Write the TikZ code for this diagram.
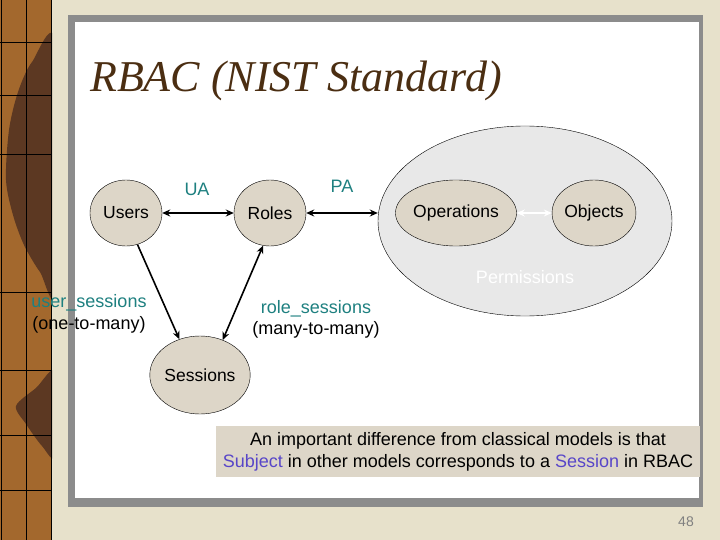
\documentclass[tikz,border=0pt]{standalone}
\usepackage{fontspec}
\setmainfont{Liberation Sans}
\newfontfamily\titlefont{Liberation Serif}
\usetikzlibrary{shapes.geometric,arrows.meta}
\definecolor{pagebeige}{RGB}{231,225,203}
\definecolor{stripbrown}{RGB}{163,104,45}
\definecolor{stripdark}{RGB}{92,56,34}
\definecolor{framegrey}{RGB}{140,140,140}
\definecolor{entityfill}{RGB}{221,214,200}
\definecolor{permfill}{RGB}{232,232,232}
\definecolor{tealtext}{RGB}{30,128,128}
\definecolor{bluetext}{RGB}{88,70,200}
\definecolor{titlebrown}{RGB}{75,46,18}
\tikzset{
  entity/.style={ellipse,draw=black,fill=entityfill,inner sep=0pt,font=\fontsize{17.5}{20}\selectfont},
  link/.style={line width=1.6pt,{Stealth[length=8pt,width=7pt]}-{Stealth[length=8pt,width=7pt]}},
  rellabel/.style={text=tealtext,font=\fontsize{18}{20}\selectfont},
  cardlabel/.style={text=black,font=\fontsize{18}{20}\selectfont}
}
\begin{document}
\begin{tikzpicture}[x=1pt,y=-1pt]
    \useasboundingbox (0,0) rectangle (720,540);

    % background, strip and slide frame
    \fill[pagebeige] (0,0) rectangle (720,540);
    \begin{scope}
    \clip (0,0) rectangle (52,540);
    \fill[stripbrown] (0,0) rectangle (52,540);
    \fill[stripdark] plot[smooth cycle] coordinates {(56,44) (32,62) (18,92) (9,130) (6,180) (13,215) (24,245) (40,272) (56,288)};
    \fill[stripdark] plot[smooth cycle] coordinates {(56,372) (36,388) (16,406) (26,424) (42,446) (56,456)};
    \draw[black,line width=1pt] (1.5,0) -- (1.5,540) (26,0) -- (26,540) (51,0) -- (51,540);
    \foreach \y in {42,95,154,292,370,435,490}
        \draw[black,line width=0.8pt] (0,\y) -- (52,\y);
    \end{scope}
    \fill[framegrey] (68,15) rectangle (703,507);
    \fill[white] (75,22) rectangle (699,498);

    \node[anchor=base west,inner sep=0pt,text=titlebrown,font=\titlefont\itshape\fontsize{44}{50}\selectfont] (title) at (90,92) {RBAC (NIST Standard)};

    % entities
    \node[ellipse,draw=black,fill=permfill,minimum width=294pt,minimum height=190pt] (perm) at (525,221) {};
    \node[entity,minimum width=72pt,minimum height=66pt] (users) at (126,213) {Users};
    \node[entity,minimum width=72pt,minimum height=66pt] (roles) at (270,213) {Roles};
    \node[entity,minimum width=96pt,minimum height=66pt] (ops) at (456,213) {Operations};
    \node[entity,minimum width=72pt,minimum height=66pt] (objs) at (594,213) {Objects};
    \node[entity,minimum width=77pt,minimum height=78pt] (sess) at (200,375) {Sessions};
    \node[text=white,font=\fontsize{18}{20}\selectfont] (permlbl) at (525,277) {Permissions};

    % relations
    \draw[link] (users) -- (roles);
    \draw[link] (roles) -- (roles -| perm.west);
    \draw[link,white,line width=1.2pt] (ops) -- (objs);
    \draw[link,-{Stealth[length=8pt,width=7pt]}] (users.290) -- (sess.120);
    \draw[link] (roles.258) -- (sess.57);

    \node[rellabel] (ua) at (197,189) {UA};
    \node[rellabel] (pa) at (342,186) {PA};
    \node[rellabel] (us) at (89,303) {user\_sessions};
    \node[cardlabel] (usc) at (89,325) {(one-to-many)};
    \node[rellabel] (rs) at (316,309) {role\_sessions};
    \node[cardlabel] (rsc) at (316,330) {(many-to-many)};

    \node[fill=entityfill,minimum width=484pt,minimum height=51pt,align=center,font=\fontsize{18}{22}\selectfont] (note) at (458,451.5)
        {An important difference from classical models is that\\
         \textcolor{bluetext}{Subject} in other models corresponds to a \textcolor{bluetext}{Session} in RBAC};

    \node[text=gray,font=\fontsize{14}{16}\selectfont] (pageno) at (686,522) {48};
\end{tikzpicture}
\end{document}
